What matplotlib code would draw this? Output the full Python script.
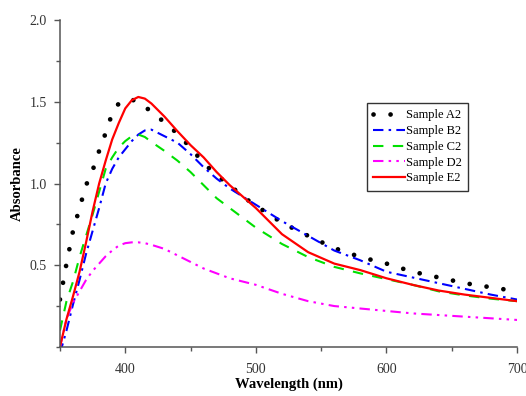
import matplotlib
matplotlib.use("Agg")
import matplotlib.pyplot as plt
from matplotlib.ticker import MultipleLocator

wavelength = [350, 355, 360, 365, 370, 375, 380, 385, 390, 395, 400, 405, 410, 415, 420,
              430, 440, 450, 460, 470, 480, 490, 500, 520, 540, 560, 580, 600, 620, 640,
              660, 680, 700]

sample_a2 = [0.29, 0.51, 0.71, 0.85, 0.99, 1.08, 1.20, 1.31, 1.43, 1.49, 1.515, 1.515, 1.495,
             1.47, 1.44, 1.375, 1.305, 1.22, 1.125, 1.05, 0.99, 0.92, 0.865, 0.76, 0.68,
             0.605, 0.55, 0.51, 0.46, 0.425, 0.39, 0.365, 0.34]
sample_b2 = [-0.04, 0.10, 0.26, 0.41, 0.57, 0.71, 0.85, 1.00, 1.09, 1.16, 1.21, 1.26, 1.30,
             1.325, 1.33, 1.29, 1.25, 1.18, 1.10, 1.03, 0.97, 0.92, 0.87, 0.77, 0.68, 0.59,
             0.53, 0.46, 0.425, 0.39, 0.355, 0.32, 0.29]
sample_c2 = [0.10, 0.28, 0.40, 0.55, 0.68, 0.81, 0.95, 1.09, 1.16, 1.22, 1.26, 1.29, 1.30,
             1.285, 1.255, 1.20, 1.14, 1.07, 0.99, 0.91, 0.85, 0.79, 0.73, 0.63, 0.55, 0.49,
             0.45, 0.415, 0.38, 0.34, 0.315, 0.295, 0.28]
sample_d2 = [0.0, 0.17, 0.27, 0.34, 0.41, 0.465, 0.51, 0.555, 0.59, 0.62, 0.635, 0.64, 0.64,
             0.635, 0.625, 0.60, 0.56, 0.52, 0.48, 0.45, 0.42, 0.40, 0.38, 0.325, 0.28, 0.25,
             0.235, 0.22, 0.205, 0.195, 0.185, 0.175, 0.165]
sample_e2 = [0.0, 0.17, 0.31, 0.46, 0.64, 0.83, 1.00, 1.14, 1.27, 1.37, 1.46, 1.51, 1.53,
             1.52, 1.49, 1.41, 1.32, 1.235, 1.16, 1.07, 0.99, 0.92, 0.85, 0.69, 0.58, 0.51,
             0.47, 0.42, 0.38, 0.345, 0.32, 0.30, 0.28]

labels = ["Sample A2", "Sample B2", "Sample C2", "Sample D2", "Sample E2"]

plt.rcParams['font.family'] = ['Liberation Serif', 'DejaVu Serif']

fig = plt.figure(figsize=(5.26, 3.96), dpi=100)
ax = fig.add_axes([0.114, 0.124, 0.869, 0.825])

ax.plot(wavelength, sample_a2, color='black', lw=3.4, linestyle=(0, (0.01, 3.6)),
        dash_capstyle='round', label=labels[0])
ax.plot(wavelength, sample_b2, color='#0000ff', lw=1.5, linestyle=(0, (5, 2.5, 1.2, 2.5)),
        label=labels[1])
ax.plot(wavelength, sample_c2, color='#00e000', lw=1.5, linestyle=(0, (5, 4.5)),
        label=labels[2])
ax.plot(wavelength, sample_d2, color='#ff00ff', lw=1.5,
        linestyle=(0, (5, 2.5, 1.2, 2.5, 1.2, 2.5)), label=labels[3])
ax.plot(wavelength, sample_e2, color='#ff0000', lw=1.6, label=labels[4])

ax.set_xlim(350, 700)
ax.set_ylim(0, 2.0)
ax.xaxis.set_major_locator(MultipleLocator(100))
ax.xaxis.set_minor_locator(MultipleLocator(50))
ax.set_yticks([0.5, 1.0, 1.5, 2.0])
ax.yaxis.set_minor_locator(MultipleLocator(0.25))

for s in ['top', 'right']:
    ax.spines[s].set_visible(False)
for s in ['left', 'bottom']:
    ax.spines[s].set_color('#555555')
    ax.spines[s].set_linewidth(1.1)

ax.tick_params(axis='both', which='major', direction='out', length=4.5, width=1.0,
               color='#555555', labelsize=10, labelcolor='#333333')
ax.tick_params(axis='both', which='minor', direction='out', length=3, width=1.0,
               color='#555555')
ax.tick_params(axis='x', which='major', pad=7)
ax.tick_params(axis='y', which='major', pad=5)

ax.set_xlabel('Wavelength (nm)', fontsize=10.5, fontweight='bold', labelpad=1)
ax.set_ylabel('Absorbance', fontsize=10.5, fontweight='bold', labelpad=4)

leg = ax.legend(loc='upper left', bbox_to_anchor=(0.672, 0.746), fontsize=9,
                frameon=True, fancybox=False, edgecolor='#333333', framealpha=1,
                handlelength=2.5, handletextpad=0.1, labelspacing=0.3,
                borderpad=0.5, borderaxespad=0)
leg.get_frame().set_linewidth(1.0)

fig.savefig('out.png', dpi=100)
